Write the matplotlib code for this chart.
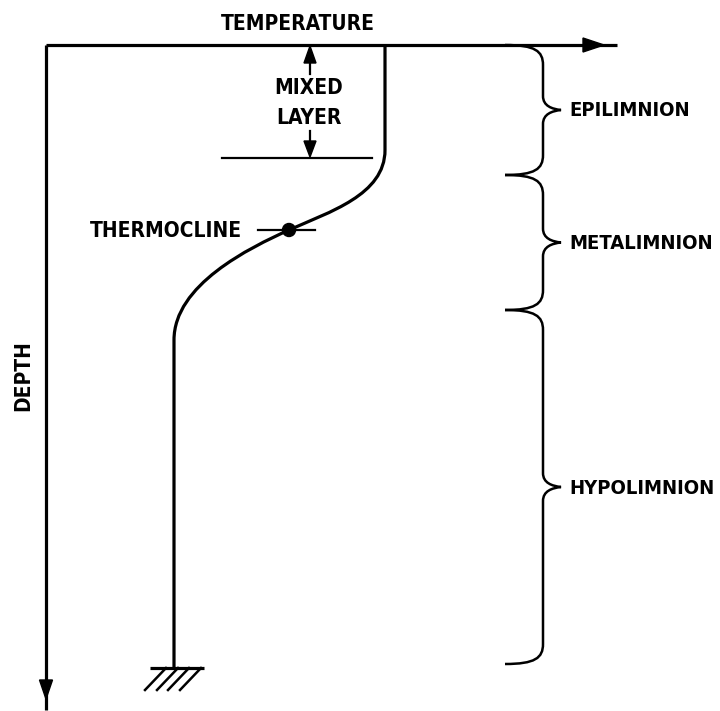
import matplotlib
matplotlib.use('Agg')
import matplotlib.pyplot as plt
from matplotlib.path import Path
from matplotlib.patches import PathPatch, Polygon, Circle
import numpy as np

plt.rcParams['font.family'] = ['DejaVu Sans']
plt.rcParams['font.weight'] = 'bold'
plt.rcParams['font.stretch'] = 'condensed'

# diagram works in pixel-like units: x = temperature, y = depth (down)
axis_origin = (46, 45)
temp_axis_end = 617
depth_axis_end = 710

# temperature profile: mixed layer, thermocline bend, deep water
mixed_temp = 385
deep_temp = 174
mixed_bottom = 150
thermo_point = (289, 230)
deep_top = 340
bottom_depth = 667
mixed_layer_line = 158

# layers and the depth range each brace covers
layer_names = ['EPILIMNION', 'METALIMNION', 'HYPOLIMNION']
layer_top = [45, 175, 310]
layer_bottom = [175, 310, 664]

lw = 2.3
fs = 15
fig = plt.figure(figsize=(7.2, 7.11), dpi=100)
ax = fig.add_axes([0, 0, 1, 1])
ax.set_xlim(0, 720)
ax.set_ylim(711, 0)
ax.axis('off')

x0, y0 = axis_origin
# axes with arrow heads
ax.plot([x0, temp_axis_end], [y0, y0], color='k', lw=lw, solid_capstyle='butt')
ax.plot([x0, x0], [y0, depth_axis_end], color='k', lw=lw, solid_capstyle='butt')
ax.add_patch(Polygon([[583, y0 - 7], [604, y0], [583, y0 + 7]], closed=True, color='k'))
ax.add_patch(Polygon([[x0 - 6.5, 680], [x0, 699], [x0 + 6.5, 680]], closed=True, color='k'))

ax.text(298, 24, 'TEMPERATURE', ha='center', va='center', fontsize=fs)
ax.text(23, 376, 'DEPTH', ha='center', va='center', fontsize=fs, rotation=90)

# temperature profile
verts = [(mixed_temp, y0), (mixed_temp, mixed_bottom),
         (mixed_temp, 195), (329, 212), thermo_point,
         (249, 248), (deep_temp, 285), (deep_temp, deep_top),
         (deep_temp, bottom_depth)]
codes = [Path.MOVETO, Path.LINETO,
         Path.CURVE4, Path.CURVE4, Path.CURVE4,
         Path.CURVE4, Path.CURVE4, Path.CURVE4,
         Path.LINETO]
ax.add_patch(PathPatch(Path(verts, codes), fill=False, lw=lw, ec='k', capstyle='butt'))

# thermocline marker
ax.add_patch(Circle(thermo_point, 6.5, color='k'))
ax.plot([258, 315], [thermo_point[1], thermo_point[1]], color='k', lw=1.6)
ax.text(242, 231, 'THERMOCLINE', ha='right', va='center', fontsize=fs)

# mixed layer marker
ax.plot([222, 372], [mixed_layer_line, mixed_layer_line], color='k', lw=1.6)
ax.plot([310, 310], [60, 74], color='k', lw=1.6)
ax.add_patch(Polygon([[304, 63], [310, y0 + 1], [316, 63]], closed=True, color='k'))
ax.plot([310, 310], [131, 144], color='k', lw=1.6)
ax.add_patch(Polygon([[304, 141], [310, mixed_layer_line - 1], [316, 141]], closed=True, color='k'))
ax.text(309, 88, 'MIXED', ha='center', va='center', fontsize=fs)
ax.text(309, 118, 'LAYER', ha='center', va='center', fontsize=fs)

# ground symbol at the bottom
ax.plot([150, 204], [bottom_depth + 1, bottom_depth + 1], color='k', lw=lw, solid_capstyle='butt')
for hx in [145, 157, 168, 180]:
    ax.plot([hx, hx + 21], [690, bottom_depth + 1], color='k', lw=1.8)


def brace(top, bot, xs=543, xl=505, tip=561):
    mid = (top + bot) / 2.0
    v = [(xl, top), (535, top), (xs, top + 6), (xs, top + 20),
         (xs, mid - 14),
         (xs, mid - 4), (552, mid - 1), (tip, mid),
         (552, mid + 1), (xs, mid + 4), (xs, mid + 14),
         (xs, bot - 20),
         (xs, bot - 6), (535, bot), (xl, bot)]
    c = [Path.MOVETO, Path.CURVE4, Path.CURVE4, Path.CURVE4,
         Path.LINETO,
         Path.CURVE4, Path.CURVE4, Path.CURVE4,
         Path.CURVE4, Path.CURVE4, Path.CURVE4,
         Path.LINETO,
         Path.CURVE4, Path.CURVE4, Path.CURVE4]
    return Path(v, c)


for name, top, bot in zip(layer_names, layer_top, layer_bottom):
    ax.add_patch(PathPatch(brace(top, bot), fill=False, lw=1.8, ec='k'))
    ax.text(569, (top + bot) / 2.0 + 1, name, ha='left', va='center', fontsize=14.5)

fig.savefig('out.png', dpi=100)
